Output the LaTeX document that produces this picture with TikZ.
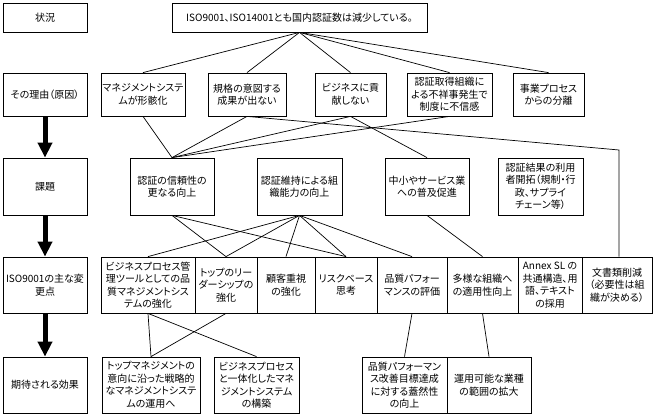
\documentclass[tikz,border=0pt]{standalone}
\usepackage{fontspec}
\setmainfont{Noto Sans CJK JP}[RawFeature=+palt]
\usetikzlibrary{arrows.meta}
\begin{document}
\begin{tikzpicture}[x=1pt,y=-1pt,
  bx/.style={draw, line width=0.8pt, inner sep=0pt, align=center, font=\fontsize{10}{12.5}\selectfont},
  conn/.style={line width=0.7pt},
  bigarrow/.style={line width=5pt, -{Triangle[length=15pt,width=14pt]}}]
\useasboundingbox[fill=white] (0,0) rectangle (656,415);
% row 1
\node[bx, minimum width=84pt, minimum height=29pt] (s1) at (45,17.5) {状況};
\node[bx, minimum width=255pt, minimum height=29pt] (top) at (299.5,17.5) {ISO9001、ISO14001とも国内認証数は減少している。};
% row 2
\node[bx, minimum width=84pt, minimum height=43pt] (s2) at (45,94.5) {その理由（原因）};
\node[bx, minimum width=84pt, minimum height=43pt] (r1) at (143,94.5) {マネジメントシステ\\ムが形骸化};
\node[bx, minimum width=78pt, minimum height=43pt] (r2) at (247,94.5) {規格の意図する\\成果が出ない};
\node[bx, minimum width=71pt, minimum height=43pt] (r3) at (350.5,94.5) {ビジネスに貢\\献しない};
\node[bx, minimum width=85pt, minimum height=43pt] (r4) at (449.5,94.5) {認証取得組織に\\よる不祥事発生で\\制度に不信感};
\node[bx, minimum width=71pt, minimum height=43pt] (r5) at (548.5,94.5) {事業プロセス\\からの分離};
% row 3
\node[bx, minimum width=84pt, minimum height=57pt] (s3) at (45,186.5) {課題};
\node[bx, minimum width=84pt, minimum height=57pt] (k1) at (172,186.5) {認証の信頼性の\\更なる向上};
\node[bx, minimum width=85pt, minimum height=57pt] (k2) at (299.5,186.5) {認証維持による組\\織能力の向上};
\node[bx, minimum width=84pt, minimum height=57pt] (k3) at (427,186.5) {中小やサービス業\\への普及促進};
\node[bx, minimum width=85pt, minimum height=57pt] (k4) at (540.5,186.5) {認証結果の利用\\者開拓（規制・行\\政、サプライ\\チェーン等）};
% row 4
\node[bx, minimum width=84pt, minimum height=56pt] (s4) at (45,285) {ISO9001の主な変\\更点};
\node[bx, minimum width=94pt, minimum height=56pt] (c1) at (148,285) {ビジネスプロセス管\\理ツールとしての品\\質マネジメントシス\\テムの強化};
\node[bx, minimum width=62pt, minimum height=56pt] (c2) at (226,285) {トップのリー\\ダーシップの\\強化};
\node[bx, minimum width=58pt, minimum height=56pt] (c3) at (286,285) {顧客重視\\の強化};
\node[bx, minimum width=62pt, minimum height=56pt] (c4) at (346,285) {リスクベース\\思考};
\node[bx, minimum width=70pt, minimum height=56pt] (c5) at (412,285) {品質パフォー\\マンスの評価};
\node[bx, minimum width=71pt, minimum height=56pt] (c6) at (482.5,285) {多様な組織へ\\の適用性向上};
\node[bx, minimum width=64pt, minimum height=56pt] (c7) at (550,285) {Annex SL の\\共通構造、用\\語、テキスト\\の採用};
\node[bx, minimum width=70pt, minimum height=56pt] (c8) at (617,285) {文書類削減\\（必要性は組\\織が決める）};
% row 5
\node[bx, minimum width=84pt, minimum height=56pt] (s5) at (45,385) {期待される効果};
\node[bx, minimum width=98pt, minimum height=56pt] (e1) at (151,385) {トップマネジメントの\\意向に沿った戦略的\\なマネジメントシステ\\ムの運用へ};
\node[bx, minimum width=85pt, minimum height=56pt] (e2) at (256.5,385) {ビジネスプロセス\\と一体化したマネ\\ジメントシステム\\の構築};
\node[bx, minimum width=85pt, minimum height=56pt] (e3) at (404.5,385) {品質パフォーマン\\ス改善目標達成\\に対する蓋然性\\の向上};
\node[bx, minimum width=84pt, minimum height=56pt] (e4) at (489,385) {運用可能な業種\\の範囲の拡大};
% thick arrows
\draw[bigarrow] (s2.south) -- (s3.north);
\draw[bigarrow] (s3.south) -- (s4.north);
\draw[bigarrow] (s4.south) -- (s5.north);
% row1 -> row2
\foreach \t in {r1,r2,r3,r4,r5} \draw[conn] (top.south) -- (\t.north);
% row2 -> row3
\foreach \s in {r1,r2,r3,r4} \draw[conn] (\s.south) -- (k1.north);
\draw[conn] (r3.south) -- (k3.north);
\coordinate (bend) at (619,150);
\draw[conn] (r2.south) -- (bend) -- (bend |- c8.north);
% row3 -> row4
\draw[conn] (k1.south) -- (c2.north);
\draw[conn] (k1.south) -- (c4.north);
\foreach \t in {c1,c2,c3,c4,c5} \draw[conn] (k2.south) -- (\t.north);
\draw[conn] (k3.south) -- (c6.north);
% row4 -> row5
\draw[conn] (c1.south) -- (e1.north);
\draw[conn] (c1.south) -- (e2.north);
\draw[conn] (c2.south) -- (e1.north);
\draw[conn] (c5.south) -- (e3.north);
\draw[conn] (c6.south) -- (e4.north);
\end{tikzpicture}
\end{document}
